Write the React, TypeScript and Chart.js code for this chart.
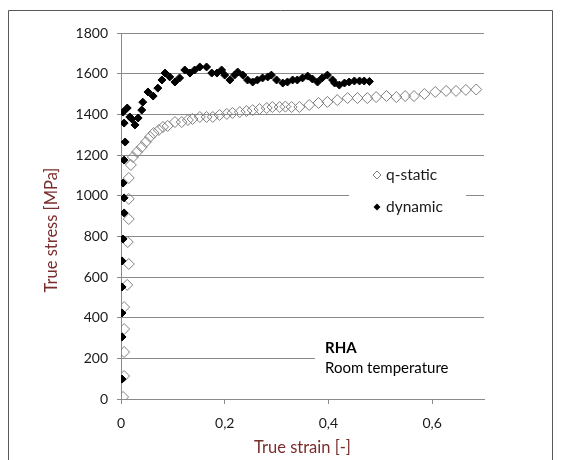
import React, { useEffect, useRef } from 'react';
import { Chart, registerables } from 'chart.js';

Chart.register(...registerables);

// ---- data ----
const seriesNames = ['q-static', 'dynamic'];

const qStaticX = [
  0.004, 0.006, 0.006, 0.006, 0.006, 0.012, 0.015, 0.013, 0.015, 0.015, 0.015, 0.019, 0.023,
  0.031, 0.040, 0.048, 0.056, 0.063, 0.073, 0.081, 0.090, 0.104, 0.117, 0.129, 0.138, 0.152,
  0.165, 0.177, 0.190, 0.204, 0.215, 0.229, 0.242, 0.254, 0.267, 0.281, 0.292, 0.306, 0.317,
  0.329, 0.344, 0.363, 0.381, 0.398, 0.417, 0.437, 0.456, 0.475, 0.492, 0.512, 0.531, 0.548,
  0.565, 0.585, 0.606, 0.627, 0.646, 0.665, 0.685,
];
const qStaticY = [
  10, 113, 231, 344, 452, 561, 664, 772, 885, 984, 1087, 1151, 1190,
  1215, 1239, 1264, 1289, 1308, 1323, 1338, 1343, 1362, 1362, 1372, 1377, 1387,
  1387, 1387, 1397, 1402, 1407, 1411, 1416, 1421, 1426, 1431, 1436, 1436, 1438,
  1436, 1436, 1446, 1456, 1461, 1470, 1480, 1480, 1480, 1485, 1490, 1485, 1490,
  1490, 1500, 1510, 1515, 1515, 1520, 1522,
];

const dynamicX = [
  0.002, 0.002, 0.002, 0.002, 0.002, 0.004, 0.006, 0.006, 0.004, 0.006, 0.008, 0.006, 0.004,
  0.012, 0.017, 0.021, 0.027, 0.033, 0.040, 0.042, 0.052, 0.062, 0.071, 0.079, 0.085, 0.094,
  0.104, 0.113, 0.123, 0.133, 0.142, 0.152, 0.165, 0.175, 0.185, 0.194, 0.200, 0.210, 0.219,
  0.225, 0.235, 0.244, 0.254, 0.263, 0.273, 0.283, 0.290, 0.300, 0.312, 0.321, 0.331, 0.340,
  0.350, 0.360, 0.369, 0.379, 0.388, 0.398, 0.408, 0.412, 0.421, 0.431, 0.440, 0.450, 0.460,
  0.469, 0.479,
];
const dynamicY = [
  98, 305, 423, 551, 679, 787, 915, 989, 1062, 1175, 1264, 1357, 1411,
  1431, 1387, 1377, 1348, 1382, 1421, 1460, 1510, 1490, 1529, 1569, 1603, 1584,
  1559, 1579, 1618, 1603, 1618, 1633, 1633, 1603, 1603, 1618, 1593, 1569, 1593,
  1608, 1593, 1569, 1559, 1569, 1579, 1584, 1593, 1569, 1554, 1559, 1569, 1569,
  1579, 1588, 1574, 1559, 1579, 1593, 1569, 1554, 1544, 1554, 1559, 1564, 1564,
  1564, 1562,
];

const xTicks = [0, 0.2, 0.4, 0.6];
const xMin = 0;
const xMax = 0.7;
const yMin = 0;
const yMax = 1800;
const yStep = 200;

const xTitle = 'True strain [-]';
const yTitle = 'True stress [MPa]';
const noteTitle = 'RHA';
const noteText = 'Room temperature';

// ---- style ----
const FONT = 'Lato, "Open Sans", sans-serif';
const GRID = '#8a8a8a';
const TITLE_COLOR = '#7a2d2d';
const TEXT = '#1a1a1a';
const HOLLOW = '#7f7f7f';

function diamond(ctx: CanvasRenderingContext2D, x: number, y: number, r: number) {
  ctx.beginPath();
  ctx.moveTo(x, y - r);
  ctx.lineTo(x + r, y);
  ctx.lineTo(x, y + r);
  ctx.lineTo(x - r, y);
  ctx.closePath();
}

const overlay = {
  id: 'overlay',
  beforeDraw(chart: any) {
    const ctx = chart.ctx as CanvasRenderingContext2D;
    ctx.save();
    ctx.fillStyle = '#ffffff';
    ctx.fillRect(0, 0, chart.width, chart.height);
    ctx.strokeStyle = '#595959';
    ctx.lineWidth = 1;
    ctx.beginPath();
    ctx.moveTo(0.5, chart.height);
    ctx.lineTo(0.5, 2.5);
    ctx.lineTo(chart.width - 0.5, 2.5);
    ctx.lineTo(chart.width - 0.5, chart.height);
    ctx.stroke();
    ctx.restore();
  },
  beforeDatasetsDraw(chart: any) {
    const ctx = chart.ctx as CanvasRenderingContext2D;
    const a = chart.chartArea;
    ctx.save();
    ctx.fillStyle = '#ffffff';
    // legend box
    ctx.fillRect(a.left + 228, a.top + 129, 117, 66);
    // note box
    ctx.fillRect(a.left + 194, a.top + 297, a.right - a.left - 194 + 2, 62);
    ctx.restore();
  },
  afterDatasetsDraw(chart: any) {
    const ctx = chart.ctx as CanvasRenderingContext2D;
    const a = chart.chartArea;
    ctx.save();
    // legend
    const lx = a.left + 256;
    const ly1 = a.top + 142;
    const ly2 = a.top + 174;
    diamond(ctx, lx, ly1, 4);
    ctx.strokeStyle = HOLLOW;
    ctx.lineWidth = 1;
    ctx.stroke();
    diamond(ctx, lx, ly2, 3.5);
    ctx.fillStyle = '#000';
    ctx.fill();
    ctx.font = `15.5px ${FONT}`;
    ctx.fillStyle = TEXT;
    ctx.textAlign = 'left';
    ctx.textBaseline = 'middle';
    ctx.fillText(seriesNames[0], lx + 9, ly1);
    ctx.fillText(seriesNames[1], lx + 9, ly2);

    // note
    ctx.font = `bold 15px ${FONT}`;
    ctx.fillStyle = '#000';
    ctx.fillText(noteTitle, a.left + 204, a.top + 315);
    ctx.font = `15px ${FONT}`;
    ctx.fillText(noteText, a.left + 204, a.top + 335);

    // axis titles
    ctx.font = `16.5px ${FONT}`;
    ctx.fillStyle = TITLE_COLOR;
    ctx.textAlign = 'center';
    ctx.fillText(xTitle, (a.left + a.right) / 2, a.bottom + 49);
    ctx.translate(a.left - 69, a.top + 197);
    ctx.rotate(-Math.PI / 2);
    ctx.fillText(yTitle, 0, 0);
    ctx.restore();
  },
};

export default function App() {
  const ref = useRef<HTMLCanvasElement | null>(null);

  useEffect(() => {
    document.documentElement.style.overflow = 'hidden';
    document.body.style.overflow = 'hidden';
    const canvas = ref.current;
    if (!canvas) return;
    const chart = new Chart(canvas, {
      type: 'scatter',
      data: {
        datasets: [
          {
            label: seriesNames[1],
            data: dynamicX.map((x, i) => ({ x, y: dynamicY[i] })),
            pointStyle: 'rectRot',
            pointRadius: 4,
            backgroundColor: '#000000',
            borderColor: '#000000',
            borderWidth: 1,
            showLine: false,
          },
          {
            label: seriesNames[0],
            data: qStaticX.map((x, i) => ({ x, y: qStaticY[i] })),
            pointStyle: 'rectRot',
            pointRadius: 5.5,
            backgroundColor: 'rgba(0,0,0,0)',
            borderColor: HOLLOW,
            borderWidth: 1,
            showLine: false,
          },
        ],
      },
      options: {
        responsive: false,
        animation: false,
        events: [],
        layout: { padding: { top: 25, right: 69, left: 0, bottom: 0 } },
        plugins: {
          legend: { display: false },
          tooltip: { enabled: false },
          title: { display: false },
        },
        scales: {
          x: {
            type: 'linear',
            min: xMin,
            max: xMax,
            afterFit: (s: any) => {
              s.height = 61;
            },
            afterBuildTicks: (s: any) => {
              s.ticks = xTicks.map((v) => ({ value: v }));
            },
            grid: {
              drawOnChartArea: false,
              drawTicks: true,
              tickLength: 5,
              color: GRID,
            },
            border: { display: true, color: GRID, width: 1 },
            ticks: {
              padding: 11,
              maxRotation: 0,
              color: TEXT,
              font: { family: FONT, size: 14 },
              callback: (v: any) => String(v).replace('.', ','),
            },
          },
          y: {
            type: 'linear',
            min: yMin,
            max: yMax,
            afterFit: (s: any) => {
              s.width = 113;
            },
            grid: {
              drawOnChartArea: true,
              drawTicks: true,
              tickLength: 4,
              color: GRID,
            },
            border: { display: true, color: GRID, width: 1 },
            ticks: {
              stepSize: yStep,
              padding: 9,
              color: TEXT,
              font: { family: FONT, size: 14 },
              callback: (v: any) => String(v),
            },
          },
        },
      },
      plugins: [overlay],
    });
    return () => chart.destroy();
  }, []);

  return (
    <div style={{ width: 545, height: 452 }}>
      <canvas ref={ref} width={545} height={452} style={{ display: 'block' }} />
    </div>
  );
}
